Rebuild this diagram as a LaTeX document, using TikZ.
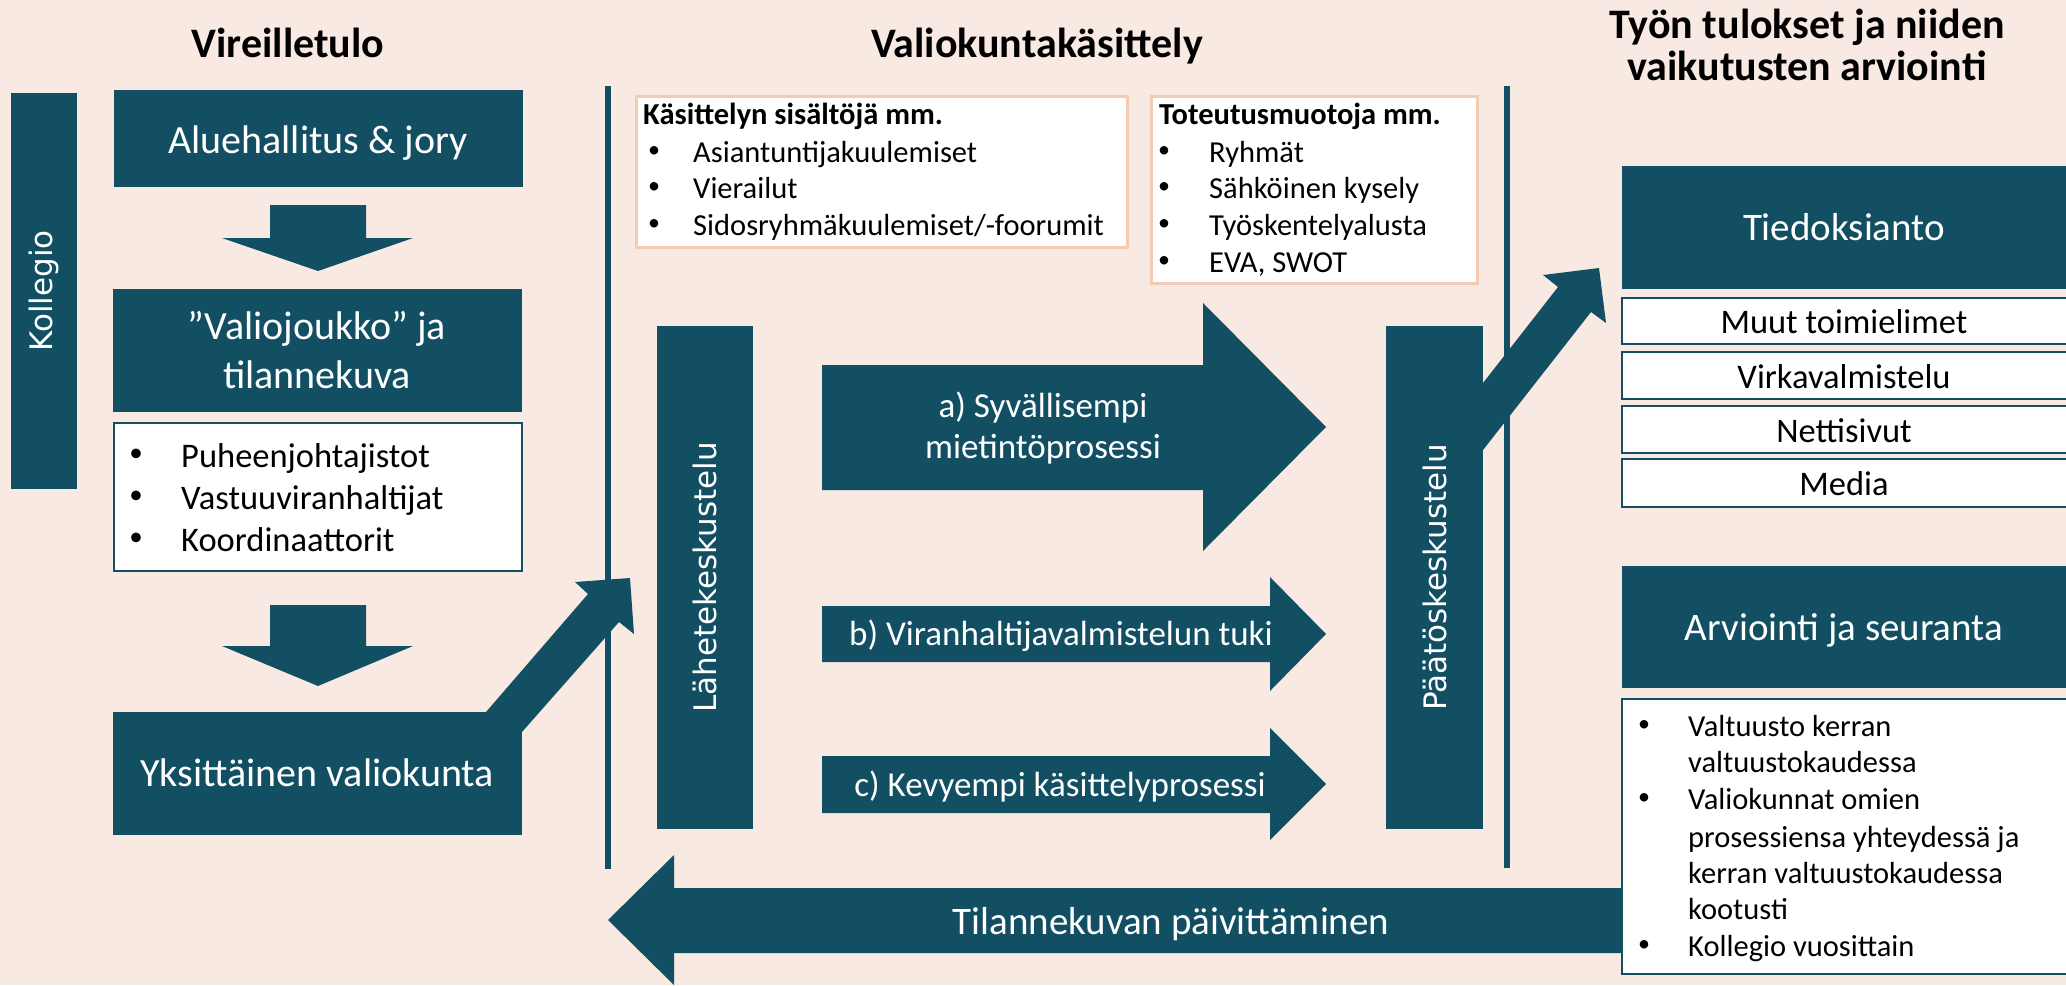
\documentclass[tikz,border=0pt]{standalone}
\usepackage{fontspec}
\setmainfont{Carlito}
\newfontfamily\vfont{DejaVu Sans}
\usetikzlibrary{fit}
\definecolor{tc}{HTML}{124F63}
\definecolor{bgc}{HTML}{F8E9E2}
\definecolor{pb}{HTML}{F2CBB3}
\newcommand\bigbul{\raisebox{6pt}{\fontsize{27}{30}\selectfont •}}
\newcommand\smbul{\raisebox{4.5pt}{\fontsize{24}{28}\selectfont •}}
\begin{document}
\begin{tikzpicture}[x=1pt,y=-1pt,
  tb/.style={fill=tc, draw=none, inner sep=0pt, outer sep=0pt},
  wbt/.style={fill=white, draw=pb, line width=3pt, inner sep=0pt},
  wbb/.style={fill=white, draw=tc, line width=2.5pt, inner sep=0pt},
  wt/.style={text=white, inner sep=0pt},
  bt/.style={text=black, inner sep=0pt},
  ttl/.style={font=\fontsize{42}{46}\selectfont\bfseries, inner sep=0pt, anchor=base},
  vt/.style={text=white, rotate=90, font=\vfont\fontsize{31}{36}\selectfont, inner sep=0pt},
  vline/.style={draw=tc, line width=6pt},
  blk/.style={fill=tc, draw=none}
]
\useasboundingbox (0,0) rectangle (2066,985);
\fill[bgc] (0,0) rectangle (2066,985);

% titles
\node[ttl] (t1) at (288,57) {Vireilletulo};
\node[ttl] (t2) at (1037,57) {Valiokuntakäsittely};
\node[ttl] (t3a) at (1807,38) {Työn tulokset ja niiden};
\node[ttl] (t3b) at (1807,80) {vaikutusten arviointi};

% vertical separator lines
\coordinate (l1t) at (608,86); \coordinate (l1b) at (608,869);
\coordinate (l2t) at (1507,86); \coordinate (l2b) at (1507,868);
\draw[vline] (l1t) -- (l1b);
\draw[vline] (l2t) -- (l2b);

% ---------- left column ----------
\node[tb, fit={(11,93) (77,489)}] (koll) {};
\node[vt] (kollT) at (koll.center) {Kollegio};

\node[tb, fit={(114,90) (523,187)}] (alue) {};
\node[wt, anchor=base, font=\fontsize{40}{48}\selectfont] (alueT) at (318,153) {Aluehallitus \& jory};

\fill[blk] (270,205) -- (366,205) -- (366,238) -- (413,238) -- (318,271) -- (222,238) -- (270,238) -- cycle;

\node[tb, fit={(113,289) (522,412)}] (valio) {};
\node[wt, anchor=base, font=\fontsize{40}{48}\selectfont] (valioT1) at (317,339) {”Valiojoukko” ja};
\node[wt, anchor=base, font=\fontsize{40}{48}\selectfont] (valioT2) at (317,388) {tilannekuva};

\node[wbb, fit={(114,423) (522,571)}] (pj) {};
\foreach \yy/\tx [count=\i] in {467/Puheenjohtajistot, 509/Vastuuviranhaltijat, 551/Koordinaattorit}{
  \node[bt, anchor=base] (pjb\i) at (136,\yy) {\bigbul};
  \node[bt, anchor=base west, font=\fontsize{34.5}{40}\selectfont] (pjt\i) at (181,\yy) {\tx};
}

\fill[blk] (270,605) -- (366,605) -- (366,646) -- (413,646) -- (318,686) -- (222,646) -- (270,646) -- cycle;

\node[tb, fit={(113,712) (522,835)}] (yks) {};
\node[wt, anchor=base, font=\fontsize{40}{48}\selectfont] (yksT) at (317,786) {Yksittäinen valiokunta};

% diagonal arrow 1
\fill[blk] (486,712) -- (588,594) -- (575,582) -- (630,578) -- (634,634) -- (619,622) -- (522,732) -- (522,712) -- cycle;

% ---------- middle column ----------
\node[wbt, fit={(636,96) (1127,247)}] (kas) {};
\node[bt, anchor=base west, font=\fontsize{30.5}{36}\selectfont\bfseries] (kasT) at (643,124) {Käsittelyn sisältöjä mm.};
\foreach \yy/\tx [count=\i] in {162/Asiantuntijakuulemiset, 198/Vierailut, 235/{Sidosryhmäkuulemiset/-foorumit}}{
  \node[bt, anchor=base] (kasb\i) at (654,\yy) {\smbul};
  \node[bt, anchor=base west, font=\fontsize{30.5}{36}\selectfont] (kast\i) at (693,\yy) {\tx};
}

\node[wbt, fit={(1151,96) (1477,283)}] (tot) {};
\node[bt, anchor=base west, font=\fontsize{30.5}{36}\selectfont\bfseries] (totT) at (1159,124) {Toteutusmuotoja mm.};
\foreach \yy/\tx [count=\i] in {162/Ryhmät, 198/Sähköinen kysely, 235/Työskentelyalusta, 272/{EVA, SWOT}}{
  \node[bt, anchor=base] (totb\i) at (1164,\yy) {\smbul};
  \node[bt, anchor=base west, font=\fontsize{30.5}{36}\selectfont] (tott\i) at (1209,\yy) {\tx};
}

\node[tb, fit={(657,326) (753,829)}] (lah) {};
\node[vt] (lahT) at (lah.center) {Lähetekeskustelu};

\node[tb, fit={(1386,326) (1483,829)}] (paa) {};
\node[vt] (paaT) at (paa.center) {Päätöskeskustelu};

% process arrows
\fill[blk] (822,365) -- (1203,365) -- (1203,303) -- (1326,427) -- (1203,551) -- (1203,490) -- (822,490) -- cycle;
\node[wt, anchor=base, font=\fontsize{35}{41}\selectfont] (aT1) at (1043,417) {a) Syvällisempi};
\node[wt, anchor=base, font=\fontsize{35}{41}\selectfont] (aT2) at (1043,458) {mietintöprosessi};

\fill[blk] (822,606) -- (1270,606) -- (1270,577) -- (1326,634) -- (1270,691) -- (1270,662) -- (822,662) -- cycle;
\node[wt, anchor=base, font=\fontsize{35}{41}\selectfont] (bT) at (1061,645) {b) Viranhaltijavalmistelun tuki};

\fill[blk] (822,756) -- (1270,756) -- (1270,728) -- (1326,784) -- (1270,840) -- (1270,813) -- (822,813) -- cycle;
\node[wt, anchor=base, font=\fontsize{35}{41}\selectfont] (cT) at (1060,796) {c) Kevyempi käsittelyprosessi};

% diagonal arrow 2
\fill[blk] (1483,383) -- (1558,287) -- (1543,275) -- (1599,268) -- (1606,323) -- (1591,312) -- (1483,450) -- cycle;

% feedback arrow
\fill[blk] (608,920) -- (674,855) -- (674,888) -- (1640,888) -- (1640,953) -- (674,953) -- (674,985) -- cycle;
\node[wt, anchor=base, font=\fontsize{39}{46}\selectfont] (tilT) at (1171,934) {Tilannekuvan päivittäminen};

% ---------- right column ----------
\node[tb, fit={(1622,166) (2066,289)}] (tied) {};
\node[wt, anchor=base, font=\fontsize{39}{46}\selectfont] (tiedT) at (1844,240) {Tiedoksianto};

\node[wbb, fit={(1622,298) (2068,344)}] (r1) {};
\node[bt, anchor=base, font=\fontsize{34.5}{40}\selectfont] (r1T) at (1844,333) {Muut toimielimet};
\node[wbb, fit={(1622,352) (2068,399)}] (r2) {};
\node[bt, anchor=base, font=\fontsize{34.5}{40}\selectfont] (r2T) at (1844,388) {Virkavalmistelu};
\node[wbb, fit={(1622,406) (2068,453)}] (r3) {};
\node[bt, anchor=base, font=\fontsize{34.5}{40}\selectfont] (r3T) at (1844,442) {Nettisivut};
\node[wbb, fit={(1622,459) (2068,507)}] (r4) {};
\node[bt, anchor=base, font=\fontsize{34.5}{40}\selectfont] (r4T) at (1844,495) {Media};

\node[tb, fit={(1622,566) (2066,688)}] (arv) {};
\node[wt, anchor=base, font=\fontsize{39}{46}\selectfont] (arvT) at (1844,640) {Arviointi ja seuranta};

\node[wbb, fit={(1622,699) (2068,974)}] (arvl) {};
\foreach \yy [count=\i] in {736,809,956}{
  \node[bt, anchor=base] (arvb\i) at (1644,\yy) {\smbul};
}
\foreach \yy/\tx [count=\i] in {736/Valtuusto kerran, 772/valtuustokaudessa, 809/Valiokunnat omien, 847/prosessiensa yhteydessä ja, 883/kerran valtuustokaudessa, 919/kootusti, 956/Kollegio vuosittain}{
  \node[bt, anchor=base west, font=\fontsize{30.5}{36}\selectfont] (arvt\i) at (1688,\yy) {\tx};
}
\end{tikzpicture}
\end{document}
